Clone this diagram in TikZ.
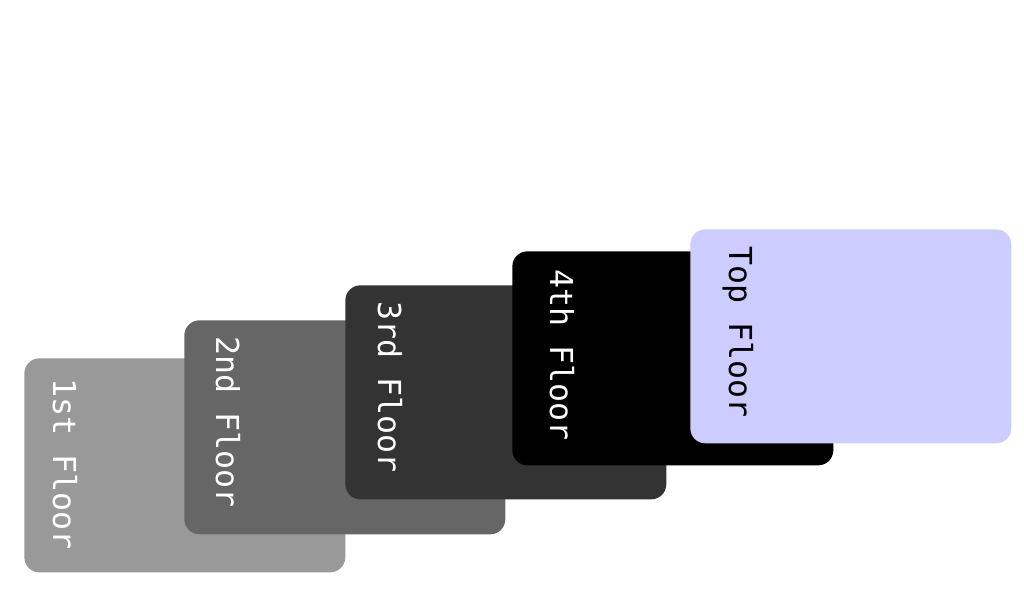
\documentclass[tikz,border=0pt]{standalone}
\usepackage{fontspec}
\newfontfamily\floorfont{DejaVu Sans Mono}
\usetikzlibrary{positioning}

\tikzset{
  floor/.style={rounded corners=0.3cm,minimum width=6.42cm,minimum height=4.28cm,
    inner sep=0pt,anchor=north west},
  floorlabel/.style={rotate=-90,anchor=base west,inner sep=0pt,
    font=\floorfont\fontsize{18}{20}\selectfont}
}

\begin{document}
\begin{tikzpicture}[x=0.02cm,y=-0.02cm]
    \useasboundingbox (0,0) rectangle (1024,598);
    % floors, bottom to top
    \node[floor,fill=black!40] (f1) at (24,358) {};
    \node[floorlabel,white] (l1) at ([shift={(29,20)}]f1.north west) {1st Floor};
    \node[floor,fill=black!60] (f2) at (184,320) {};
    \node[floorlabel,white] (l2) at ([shift={(32,16)}]f2.north west) {2nd Floor};
    \node[floor,fill=black!80] (f3) at (345,285) {};
    \node[floorlabel,white] (l3) at ([shift={(33,16)}]f3.north west) {3rd Floor};
    \node[floor,fill=black] (f4) at (512,251) {};
    \node[floorlabel,white] (l4) at ([shift={(38,18)}]f4.north west) {4th Floor};
    \node[floor,fill=blue!20] (f5) at (690,229) {};
    \node[floorlabel,black] (l5) at ([shift={(39,17)}]f5.north west) {Top Floor};
\end{tikzpicture}
\end{document}
